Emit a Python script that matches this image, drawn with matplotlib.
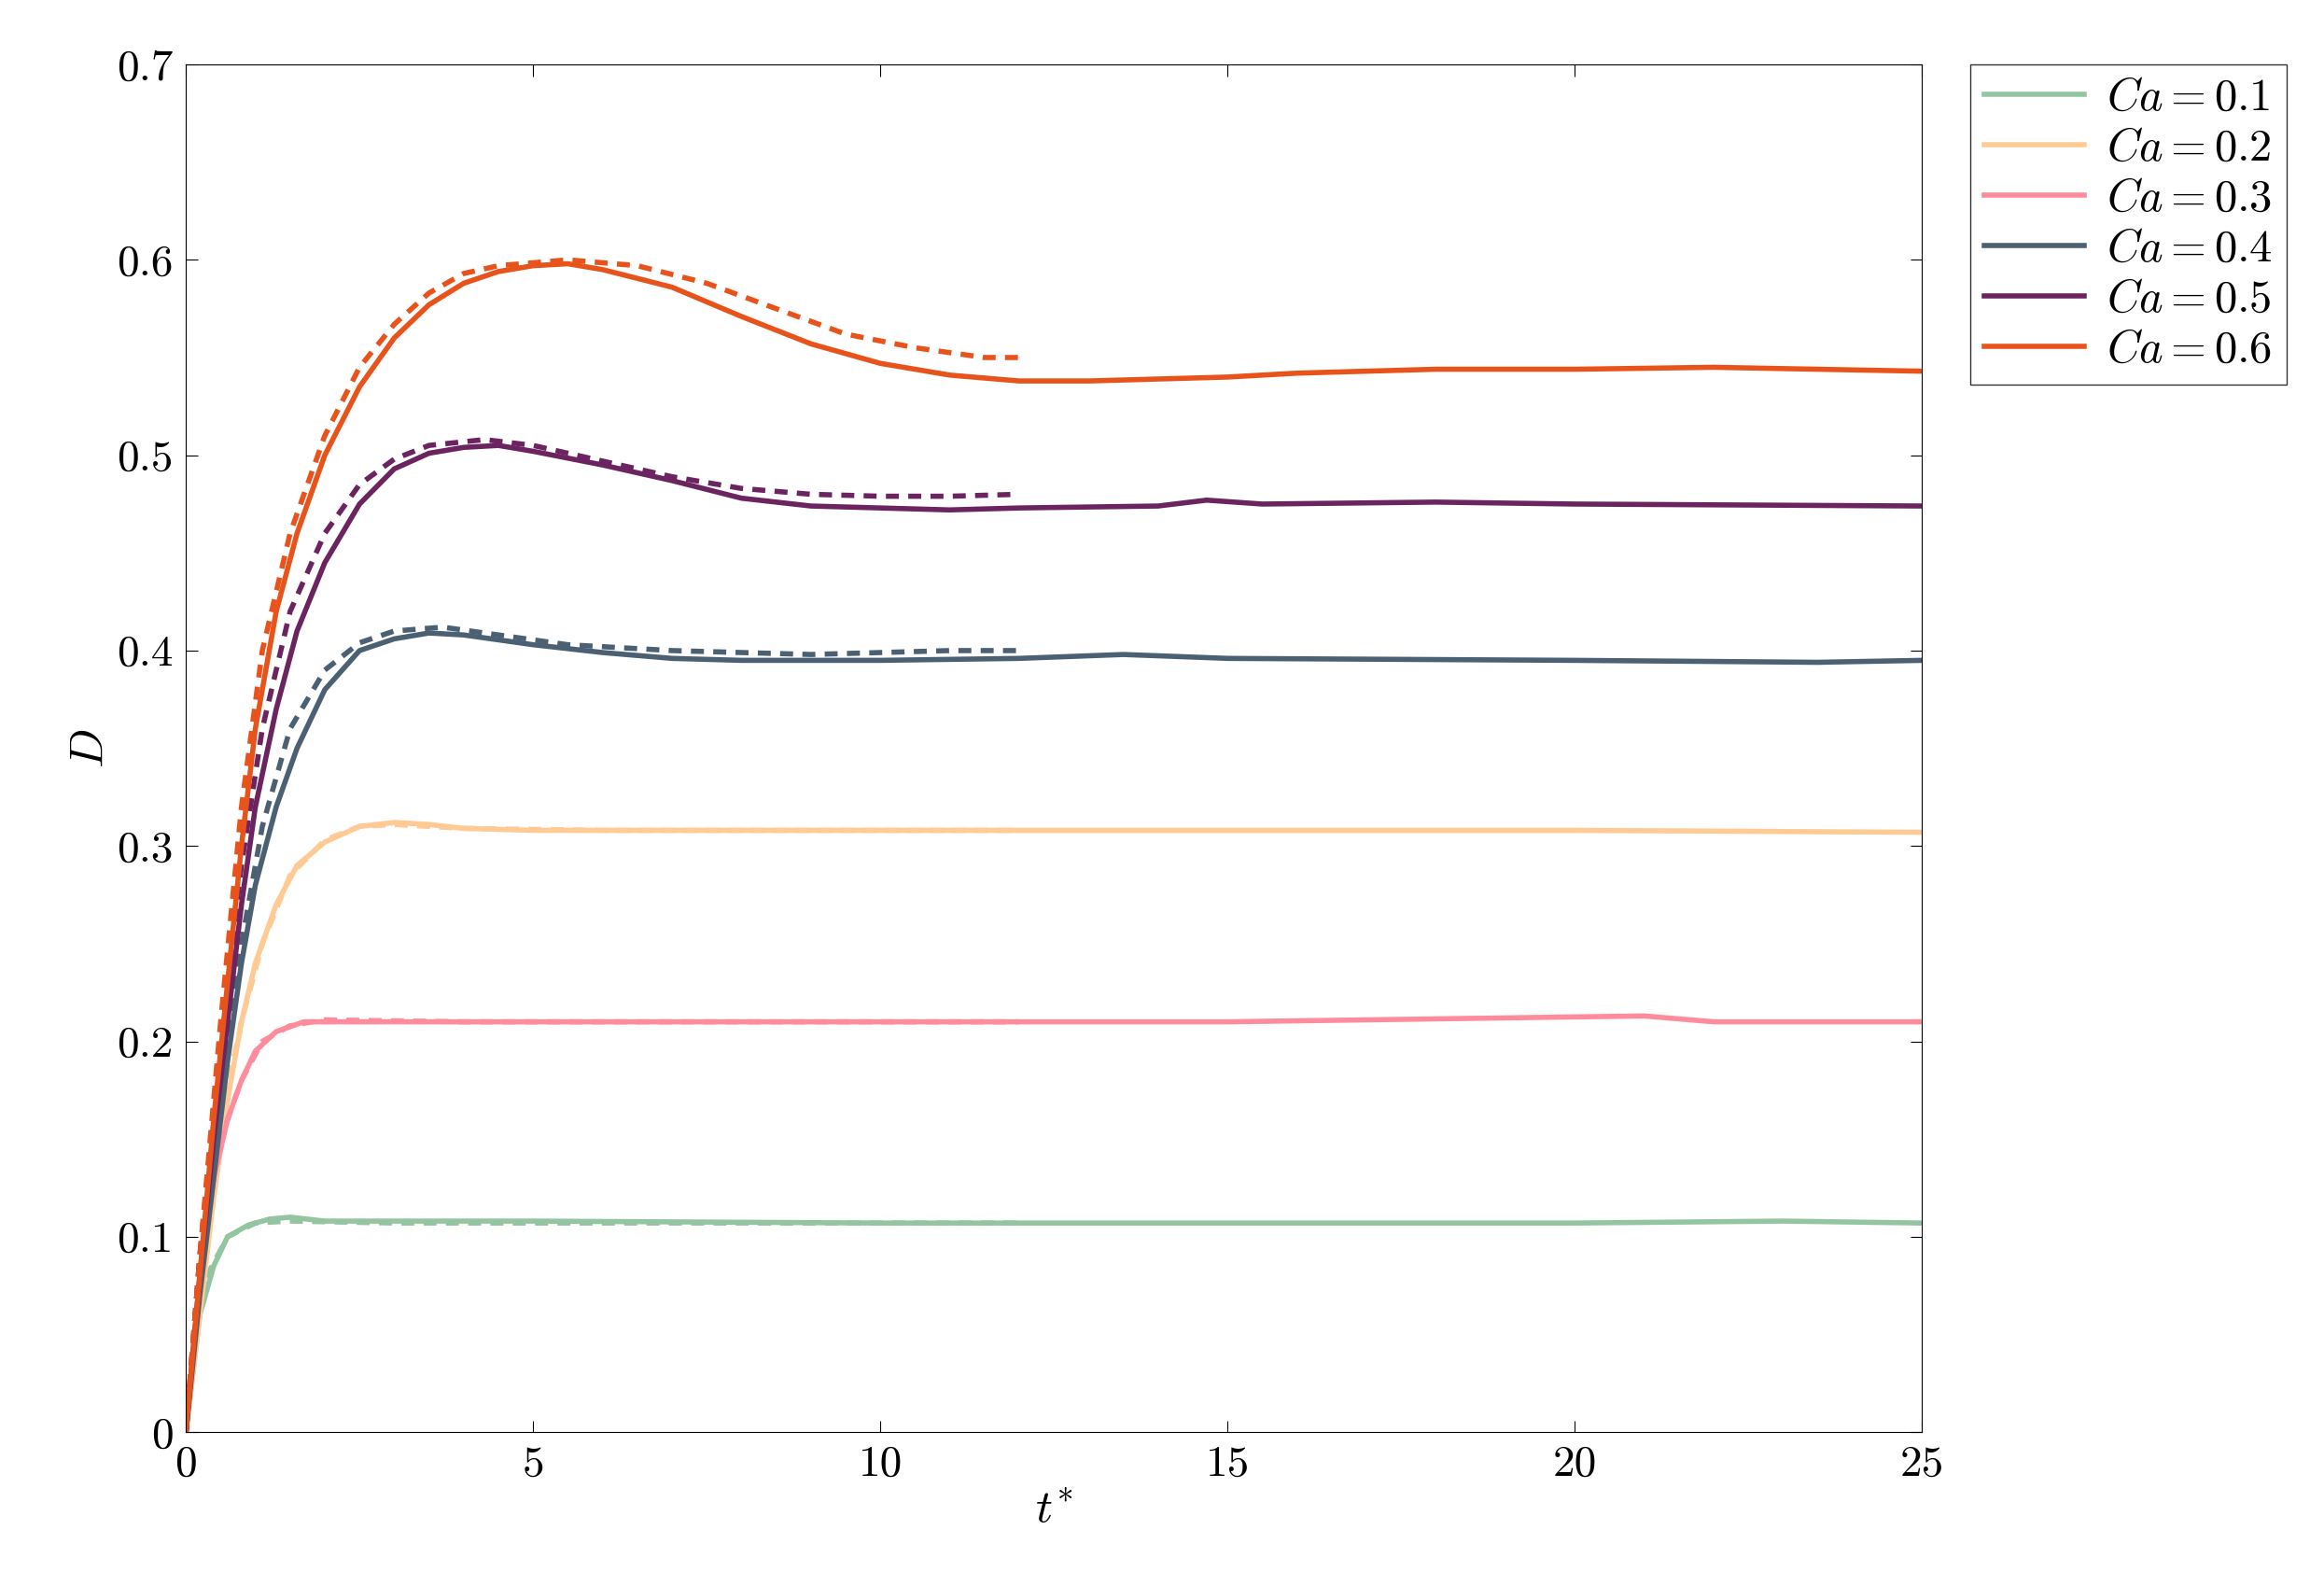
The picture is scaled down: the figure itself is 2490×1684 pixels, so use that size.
import matplotlib.pyplot as plt

plt.rcParams['font.family'] = 'serif'
plt.rcParams['font.serif'] = ['cmr10', 'DejaVu Serif']
plt.rcParams['mathtext.fontset'] = 'cm'
plt.rcParams['axes.formatter.use_mathtext'] = True

labels = ['0.1', '0.2', '0.3', '0.4', '0.5', '0.6']
colors = ['#93c6a0', '#ffca94', '#ff8c9c', '#4b6072', '#6b2460', '#e8531c']

sim_t = [
    [0, 0.1, 0.2, 0.4, 0.6, 0.9, 1.2, 1.5, 2, 3, 5, 10, 15, 20, 23, 25],
    [0, 0.2, 0.4, 0.6, 0.8, 1.0, 1.3, 1.6, 2, 2.5, 3, 3.5, 4, 5, 10, 15, 20, 25],
    [0, 0.2, 0.4, 0.6, 0.8, 1.0, 1.3, 1.7, 2.5, 5, 10, 15, 19, 21, 22, 25],
    [0, 0.2, 0.4, 0.6, 0.8, 1.0, 1.3, 1.6, 2, 2.5, 3, 3.5, 4, 5, 6, 7, 8, 10, 12, 13.5, 15, 20, 23.5, 25],
    [0, 0.2, 0.4, 0.6, 0.8, 1.0, 1.3, 1.6, 2, 2.5, 3, 3.5, 4, 4.5, 5, 6, 7, 8, 9, 10, 11, 12, 14, 14.7, 15.5, 18, 20, 25],
    [0, 0.2, 0.4, 0.6, 0.8, 1.0, 1.3, 1.6, 2, 2.5, 3, 3.5, 4, 4.5, 5, 5.5, 6, 7, 8, 9, 10, 11, 12, 13, 14, 15, 16, 18, 20, 22, 25],
]
sim_d = [
    [0, 0.03, 0.06, 0.085, 0.1, 0.106, 0.109, 0.11, 0.108, 0.108, 0.108, 0.107, 0.107, 0.107, 0.108, 0.107],
    [0, 0.06, 0.12, 0.17, 0.21, 0.24, 0.27, 0.29, 0.302, 0.31, 0.312, 0.311, 0.309, 0.308, 0.308, 0.308, 0.308, 0.307],
    [0, 0.08, 0.13, 0.16, 0.18, 0.195, 0.205, 0.21, 0.21, 0.21, 0.21, 0.21, 0.212, 0.213, 0.21, 0.21],
    [0, 0.07, 0.13, 0.19, 0.24, 0.28, 0.32, 0.35, 0.38, 0.4, 0.406, 0.409, 0.408, 0.403, 0.399, 0.396, 0.395, 0.395, 0.396, 0.398, 0.396, 0.395, 0.394, 0.395],
    [0, 0.08, 0.15, 0.21, 0.27, 0.32, 0.37, 0.41, 0.445, 0.475, 0.493, 0.501, 0.504, 0.505, 0.502, 0.495, 0.487, 0.478, 0.474, 0.473, 0.472, 0.473, 0.474, 0.477, 0.475, 0.476, 0.475, 0.474],
    [0, 0.08, 0.16, 0.23, 0.3, 0.36, 0.42, 0.46, 0.5, 0.535, 0.56, 0.577, 0.588, 0.594, 0.597, 0.598, 0.595, 0.586, 0.571, 0.557, 0.547, 0.541, 0.538, 0.538, 0.539, 0.54, 0.542, 0.544, 0.544, 0.545, 0.543],
]

ref_t = [
    [0, 0.1, 0.3, 0.6, 1, 1.5, 3, 5, 8, 12],
    [0, 0.2, 0.5, 0.8, 1.1, 1.5, 2, 2.5, 3, 4, 6, 9, 12],
    [0, 0.2, 0.5, 0.8, 1.1, 1.5, 2, 4, 8, 12],
    [0, 0.2, 0.5, 0.8, 1.1, 1.5, 2, 2.5, 3, 3.7, 4.5, 5.5, 7, 9, 11, 12],
    [0, 0.2, 0.5, 0.8, 1.1, 1.5, 2, 2.5, 3, 3.5, 4.3, 5, 6, 7, 8, 9, 10, 11, 12],
    [0, 0.2, 0.5, 0.8, 1.1, 1.5, 2, 2.5, 3, 3.5, 4, 4.5, 5.5, 6.5, 7.5, 8.5, 9.5, 10.5, 11.5, 12],
]
ref_d = [
    [0, 0.04, 0.08, 0.1, 0.107, 0.108, 0.107, 0.107, 0.107, 0.107],
    [0, 0.08, 0.16, 0.21, 0.25, 0.285, 0.303, 0.31, 0.311, 0.309, 0.308, 0.308, 0.308],
    [0, 0.09, 0.15, 0.18, 0.2, 0.208, 0.211, 0.21, 0.21, 0.21],
    [0, 0.08, 0.17, 0.25, 0.31, 0.36, 0.39, 0.404, 0.41, 0.412, 0.408, 0.403, 0.4, 0.398, 0.4, 0.4],
    [0, 0.09, 0.2, 0.29, 0.36, 0.42, 0.46, 0.485, 0.498, 0.505, 0.508, 0.505, 0.497, 0.489, 0.483, 0.48, 0.479, 0.479, 0.48],
    [0, 0.09, 0.21, 0.32, 0.4, 0.46, 0.51, 0.545, 0.567, 0.583, 0.593, 0.597, 0.6, 0.597, 0.588, 0.575, 0.562, 0.555, 0.55, 0.55],
]

fig = plt.figure(figsize=(24.9, 16.84), dpi=100)
ax = fig.add_axes([0.080, 0.089, 0.747, 0.870])

for i in range(len(labels)):
    ax.plot(sim_t[i], sim_d[i], color=colors[i], lw=4, label=r'$Ca = ' + labels[i] + '$')
    ax.plot(ref_t[i], ref_d[i], color=colors[i], lw=4, ls=(0, (2.5, 1.8)))

ax.set_xlim(0, 25)
ax.set_ylim(0, 0.7)
ax.set_xticks([0, 5, 10, 15, 20, 25])
ax.set_xticklabels(['0', '5', '10', '15', '20', '25'])
yt = [0, 0.1, 0.2, 0.3, 0.4, 0.5, 0.6, 0.7]
ax.set_yticks(yt)
ax.set_yticklabels(['0'] + ['%.1f' % v for v in yt[1:]])
ax.tick_params(labelsize=34, direction='in', top=True, right=True, length=9, pad=10)
ax.set_xlabel(r'$t^{*}$', fontsize=36)
ax.set_ylabel(r'$D$', fontsize=36)
ax.legend(loc='upper left', bbox_to_anchor=(1.028, 1.0), fontsize=35, frameon=True,
          fancybox=False, edgecolor='black', handlelength=2.2, borderaxespad=0,
          labelspacing=0.2, handletextpad=0.5, borderpad=0.3)

fig.savefig('out.png', dpi=100)
